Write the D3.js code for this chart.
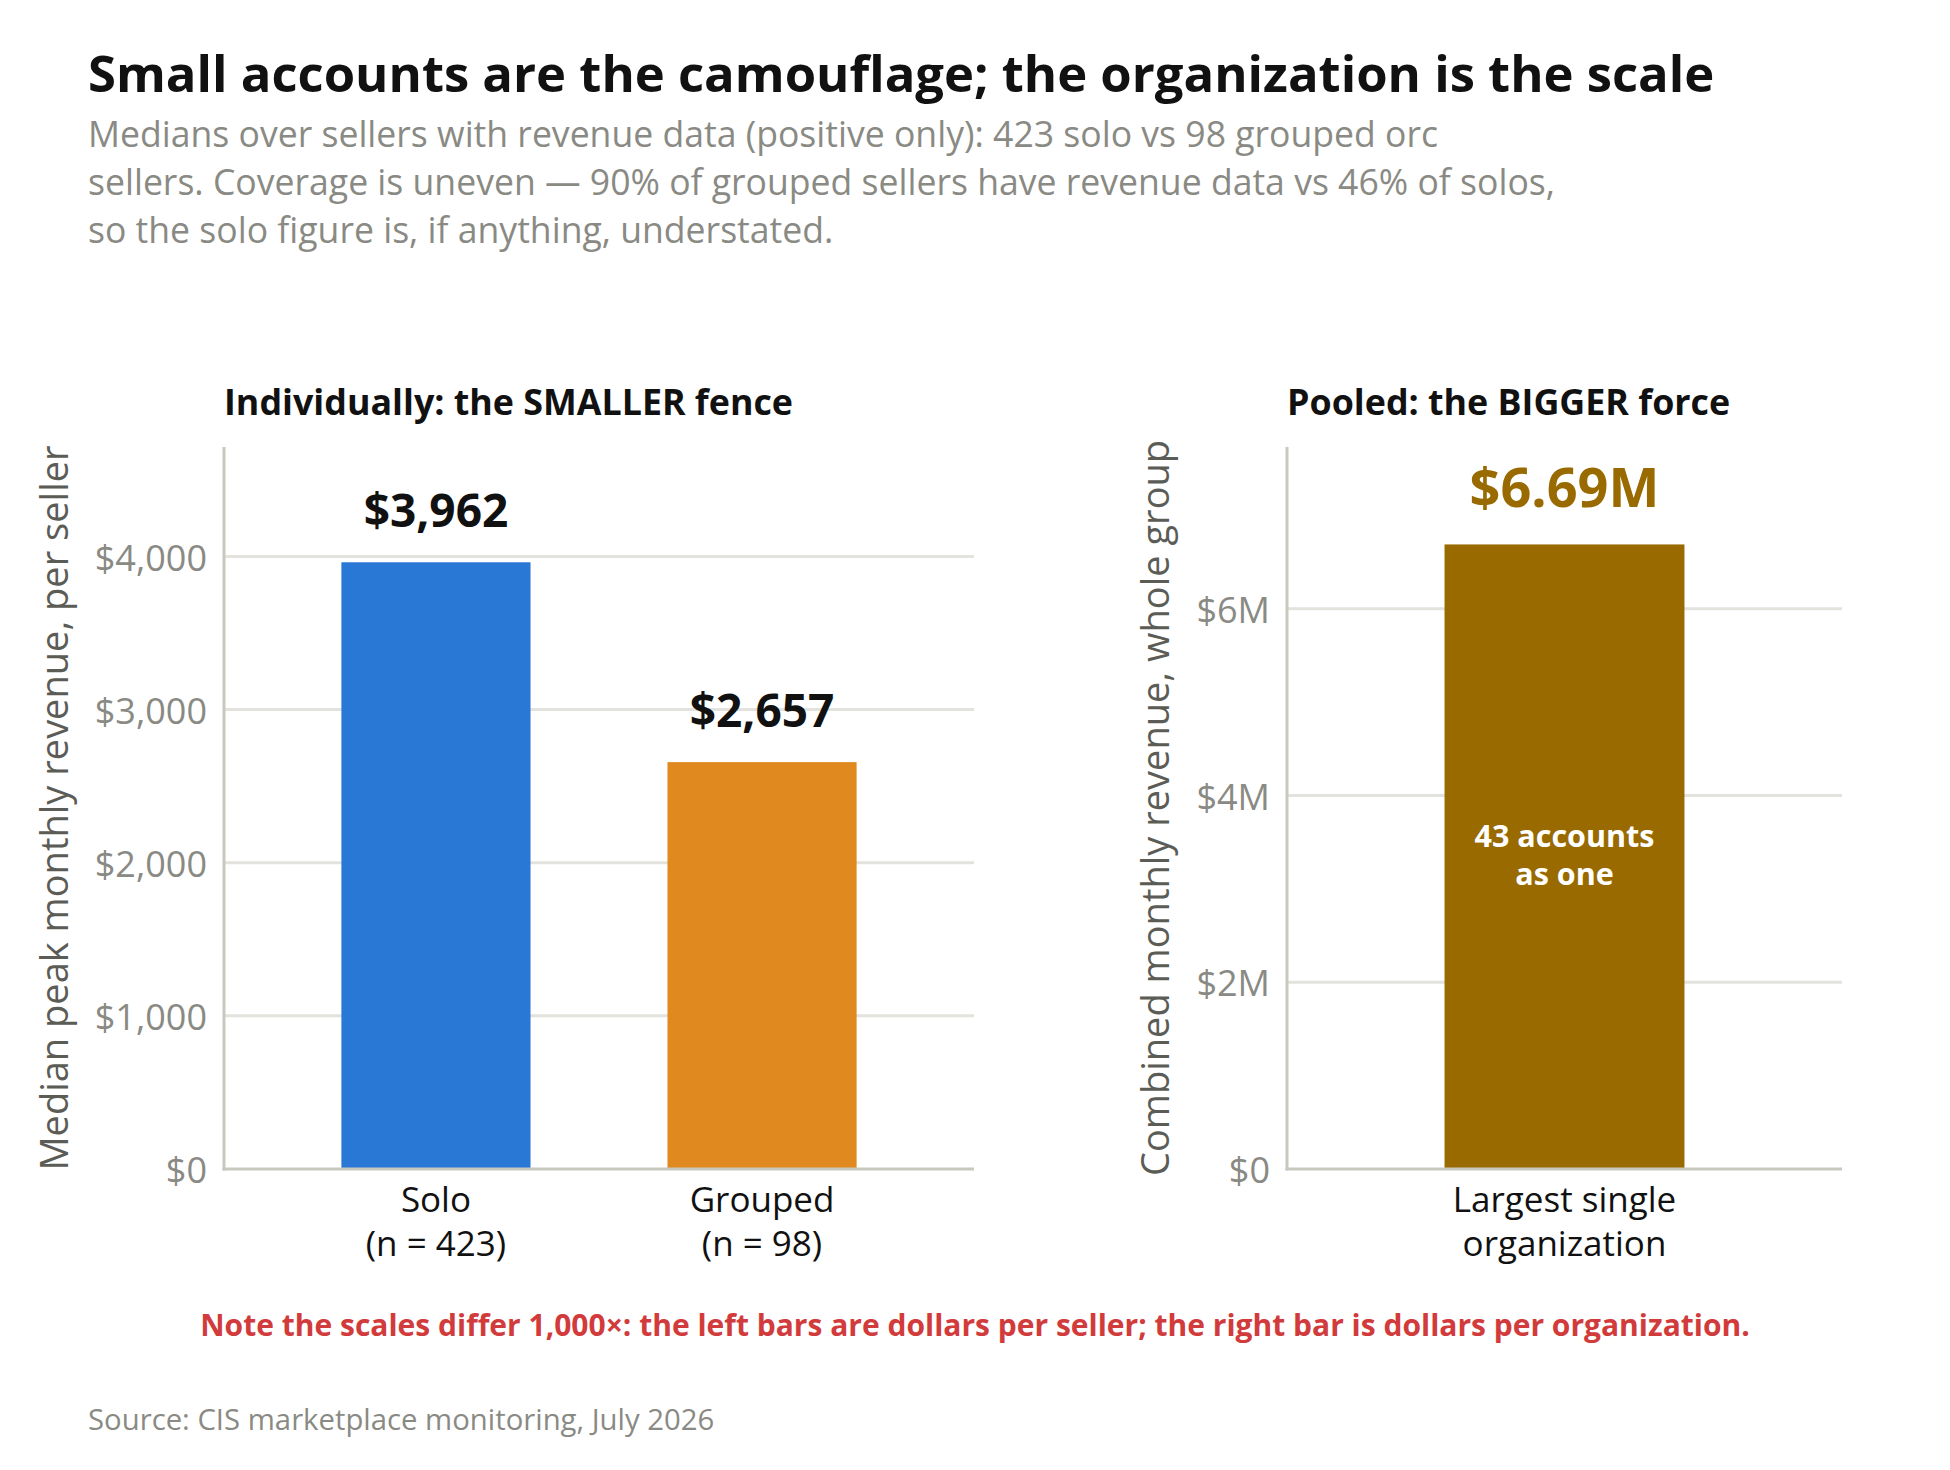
<html>
<head>
  <meta charset="utf8">
  <title>Small accounts are the camouflage</title>
  <style>
  * {
    margin: 0;
    padding: 0;
  }
  body {
    background: #fff;
    font-family: "Segoe UI", "Open Sans", sans-serif;
  }
  .grid line {
    stroke: #e3e2dc;
    stroke-width: 3px;
  }
  .axis-line {
    stroke: #c9c8bf;
    stroke-width: 3px;
  }
  .tick-label {
    fill: #8a8a84;
    font-size: 36px;
  }
  .axis-title {
    fill: #5c5c57;
    font-size: 38px;
  }
  .cat-label {
    fill: #111;
    font-size: 35px;
  }
  .panel-title {
    fill: #111;
    font-size: 35.8px;
    font-weight: 700;
  }
  </style>
</head>

<body>
  <script src="https://cdn.jsdelivr.net/npm/d3@7"></script>
  <script>

  // ---- data ----
  var leftCategories = ["Solo", "Grouped"]
  var leftCounts = [423, 98]
  var leftValues = [3962, 2657]
  var leftTicks = [0, 1000, 2000, 3000, 4000]

  var rightCategories = ["Largest single organization"]
  var rightLabelLines = ["Largest single", "organization"]
  var rightValues = [6690000]
  var rightAccounts = 43
  var rightTicks = [0, 2000000, 4000000, 6000000]

  var subtitleLines = [
    "Medians over sellers with revenue data (positive only): 423 solo vs 98 grouped orc",
    "sellers. Coverage is uneven \u2014 90% of grouped sellers have revenue data vs 46% of solos,",
    "so the solo figure is, if anything, understated."
  ]

  var W = 1950, H = 1470
  var plotTop = 447, plotBottom = 1169

  var svg = d3.select("body")
    .append("svg")
    .attr("width", W)
    .attr("height", H)
    .attr("viewBox", `0 0 ${W} ${H}`)

  // header
  svg.append("text")
    .attr("x", 88).attr("y", 92)
    .attr("fill", "#111")
    .style("font-size", "50.8px")
    .style("font-weight", 700)
    .text("Small accounts are the camouflage; the organization is the scale")

  svg.append("g")
    .selectAll("text")
    .data(subtitleLines)
    .enter()
    .append("text")
    .attr("x", 88)
    .attr("y", (d, i) => 147 + i * 48)
    .attr("fill", "#8a8a84")
    .style("font-size", "35.6px")
    .text(d => d)

  // one panel = one bar chart; styles passed in separately from the data
  function panel(opts) {
    var g = svg.append("g")
    var x = d3.scaleBand()
      .domain(opts.categories)
      .range([opts.left, opts.right])
      .paddingInner(opts.padInner)
      .paddingOuter(opts.padOuter)
    var y = d3.scaleLinear()
      .domain([0, d3.max(opts.values) * opts.headroom])
      .range([plotBottom, plotTop])

    // gridlines (skip zero, the baseline covers it)
    g.append("g")
      .attr("class", "grid")
      .selectAll("line")
      .data(opts.ticks.filter(t => t > 0))
      .enter()
      .append("line")
      .attr("x1", opts.left)
      .attr("x2", opts.right)
      .attr("y1", d => y(d))
      .attr("y2", d => y(d))

    // tick labels via d3 axis, then restyled
    var ax = g.append("g")
      .attr("transform", `translate(${opts.left},0)`)
      .call(d3.axisLeft(y).tickValues(opts.ticks).tickSize(0).tickPadding(17).tickFormat(opts.fmt))
    ax.attr("font-family", null).attr("font-size", null)
    ax.select(".domain").remove()
    ax.selectAll("text")
      .attr("class", "tick-label")
      .attr("fill", null)
      .attr("dy", "0.38em")

    var data = opts.categories.map((c, i) => ({ cat: c, value: opts.values[i] }))

    g.selectAll(".bar")
      .data(data)
      .enter()
      .append("rect")
      .attr("class", "bar")
      .attr("x", d => x(d.cat))
      .attr("width", x.bandwidth())
      .attr("y", d => y(d.value))
      .attr("height", d => plotBottom - y(d.value))
      .attr("fill", d => opts.color(d.cat))

    // axis lines
    g.append("line").attr("class", "axis-line")
      .attr("x1", opts.left).attr("x2", opts.left)
      .attr("y1", plotTop).attr("y2", plotBottom + 1.5)
    g.append("line").attr("class", "axis-line")
      .attr("x1", opts.left - 1.5).attr("x2", opts.right)
      .attr("y1", plotBottom).attr("y2", plotBottom)

    // value labels
    g.selectAll(".val")
      .data(data)
      .enter()
      .append("text")
      .attr("class", "val")
      .attr("x", d => x(d.cat) + x.bandwidth() / 2)
      .attr("y", d => y(d.value) - opts.valueGap)
      .attr("text-anchor", "middle")
      .attr("fill", opts.valueColor)
      .style("font-size", opts.valueSize)
      .style("font-weight", 700)
      .text(d => opts.valueFmt(d.value))

    // category labels (two lines each)
    var cl = g.selectAll(".cat")
      .data(data)
      .enter()
      .append("text")
      .attr("class", "cat-label")
      .attr("text-anchor", "middle")
    cl.selectAll("tspan")
      .data((d, i) => opts.catLines(d, i).map(t => ({ t: t, cx: x(d.cat) + x.bandwidth() / 2 })))
      .enter()
      .append("tspan")
      .attr("x", d => d.cx)
      .attr("y", (d, i) => plotBottom + 43 + i * 44)
      .text(d => d.t)

    // panel title, left aligned on the axis
    svg.append("text")
      .attr("class", "panel-title")
      .attr("x", opts.left)
      .attr("y", 415)
      .text(opts.title)

    // rotated axis title
    svg.append("text")
      .attr("class", "axis-title")
      .attr("transform", `translate(${opts.titleX},${(plotTop + plotBottom) / 2}) rotate(-90)`)
      .attr("text-anchor", "middle")
      .text(opts.axisTitle)

    return { g: g, x: x, y: y }
  }

  var leftColor = d3.scaleOrdinal().domain(leftCategories).range(["#2a78d6", "#e0891e"])
  var rightColor = d3.scaleOrdinal().domain(rightCategories).range(["#996a00"])

  panel({
    categories: leftCategories,
    values: leftValues,
    ticks: leftTicks,
    left: 224, right: 974,
    padInner: 0.42, padOuter: 0.36,
    headroom: 1.19,
    color: leftColor,
    fmt: d => "$" + d3.format(",")(d),
    valueFmt: d => "$" + d3.format(",")(d),
    valueColor: "#111",
    valueSize: "46px",
    valueGap: 35,
    catLines: (d, i) => [d.cat, `(n = ${leftCounts[i]})`],
    title: "Individually: the SMALLER fence",
    axisTitle: "Median peak monthly revenue, per seller",
    titleX: 68
  })

  var right = panel({
    categories: rightCategories,
    values: rightValues,
    ticks: rightTicks,
    left: 1287, right: 1842,
    padInner: 0.4, padOuter: 0.394,
    headroom: 1.156,
    color: rightColor,
    fmt: d => d === 0 ? "$0" : "$" + d / 1e6 + "M",
    valueFmt: d => "$" + d3.format(".2f")(d / 1e6) + "M",
    valueColor: "#996a00",
    valueSize: "54px",
    valueGap: 37,
    catLines: () => rightLabelLines,
    title: "Pooled: the BIGGER force",
    axisTitle: "Combined monthly revenue, whole group",
    titleX: 1169
  })

  // label inside the organization bar
  var inner = right.g.append("text")
    .attr("text-anchor", "middle")
    .attr("fill", "#fff")
    .style("font-size", "30.5px")
    .style("font-weight", 700)
  var cx = right.x(rightCategories[0]) + right.x.bandwidth() / 2
  var midY = (right.y(rightValues[0]) + plotBottom) / 2
  inner.append("tspan").attr("x", cx).attr("y", midY - 10).text(rightAccounts + " accounts")
  inner.append("tspan").attr("x", cx).attr("y", midY + 28).text("as one")

  // footnote + source
  svg.append("text")
    .attr("x", W / 2).attr("y", 1336)
    .attr("text-anchor", "middle")
    .attr("fill", "#d23b3b")
    .style("font-size", "30px")
    .style("font-weight", 700)
    .text("Note the scales differ 1,000\u00d7: the left bars are dollars per seller; the right bar is dollars per organization.")

  svg.append("text")
    .attr("x", 88).attr("y", 1430)
    .attr("fill", "#8a8a84")
    .style("font-size", "29.3px")
    .text("Source: CIS marketplace monitoring, July 2026")
  </script>
</body>

</html>
